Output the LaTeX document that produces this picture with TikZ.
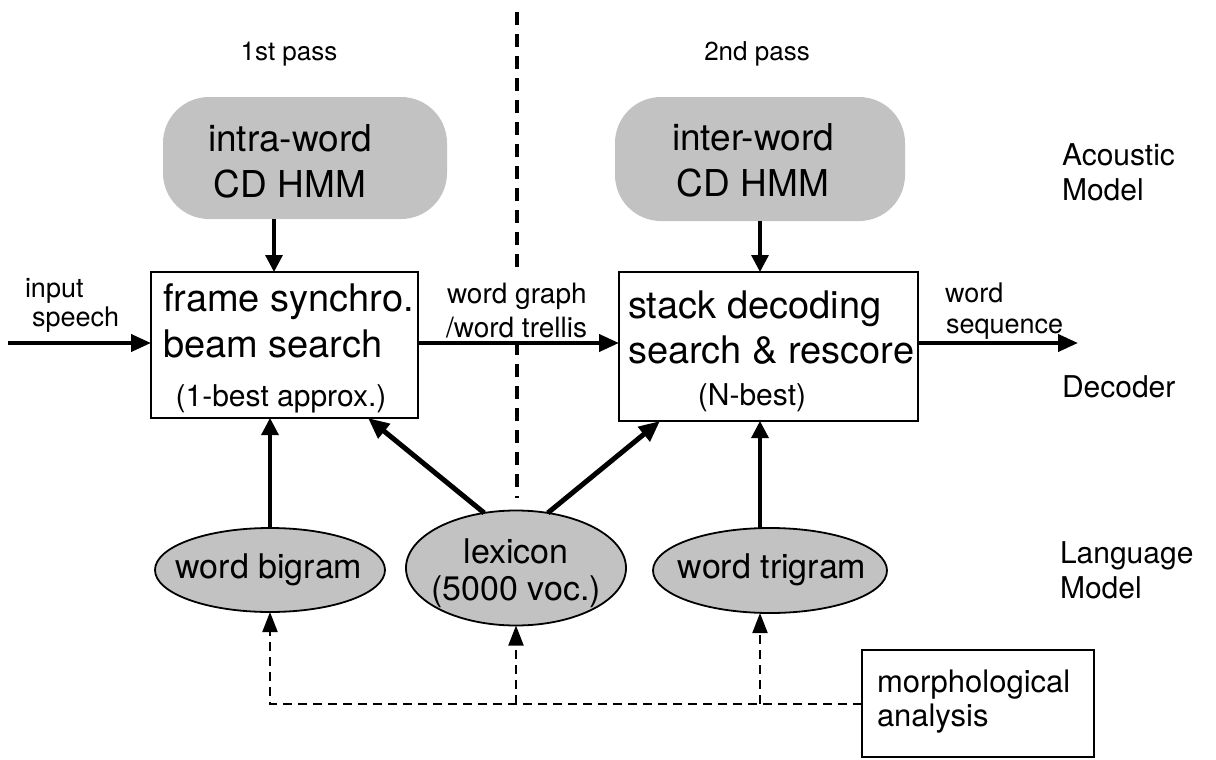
\documentclass[tikz,border=0pt]{standalone}
\usepackage{fontspec}
\setmainfont{TeX Gyre Heros}
\usetikzlibrary{arrows.meta,shapes.geometric}
\definecolor{stipple}{gray}{0.76}
\newcommand\fsz[1]{\fontsize{#1}{#1}\selectfont}
\begin{document}
\begin{tikzpicture}[x=1pt,y=-1pt,
  every node/.style={inner sep=0pt,outer sep=0pt},
  amodel/.style={fill=stipple,rounded corners=46pt},
  procbox/.style={draw,line width=1.6pt,fill=white},
  lmodel/.style={ellipse,draw,line width=1.8pt,fill=stipple},
  ctext/.style={anchor=base,font=\fsz{#1}},
  ltext/.style={anchor=base west,font=\fsz{#1}},
  bigarrow/.style={line width=4pt,-{Triangle[length=20pt,width=17pt]}},
  midarrow/.style={line width=3.2pt,-{Triangle[length=17pt,width=17pt]}},
  lexarrow/.style={line width=5pt,-{Triangle[length=21pt,width=18pt]}},
  dasharrow/.style={line width=2pt,dash pattern=on 9pt off 6pt,-{Triangle[length=20pt,width=15pt]}},
  divider/.style={line width=3.5pt,dash pattern=on 13pt off 9pt}]
\useasboundingbox (0,0) rectangle (1216,760);

% pass headings and the divider between the passes
\node[ctext=26] (pass1) at (289,60) {1st pass};
\node[ctext=26] (pass2) at (757,60) {2nd pass};
\coordinate (dtop) at (517,12);
\coordinate (dbot) at (517,498);
\draw[divider] (dtop) -- (dbot);

% acoustic models
\node[amodel,minimum width=284,minimum height=122] (am1) at (305,158) {};
\node[amodel,minimum width=290,minimum height=124] (am2) at (760,159) {};
\node[ctext=37] (am1a) at (290,151) {intra-word};
\node[ctext=37] (am1b) at (290,197) {CD HMM};
\node[ctext=37] (am2a) at (753,150) {inter-word};
\node[ctext=37] (am2b) at (753,196) {CD HMM};

% decoders
\node[procbox,minimum width=267,minimum height=146] (fs) at (284.5,345) {};
\node[procbox,minimum width=299,minimum height=149] (sd) at (768.5,346.5) {};
\node[ltext=38] (fs1) at (163,311) {frame synchro.};
\node[ltext=38] (fs2) at (163,357) {beam search};
\node[ctext=30] (fs3) at (281,406) {(1-best approx.)};
\node[ltext=38] (sd1) at (628,318) {stack decoding};
\node[ltext=38] (sd2) at (628,363) {search \& rescore};
\node[ctext=30] (sd3) at (752,405) {(N-best)};

% language models
\node[lmodel,minimum width=230,minimum height=84] (bigram) at (270,570) {};
\node[lmodel,minimum width=220,minimum height=115] (lex) at (516,568) {};
\node[lmodel,minimum width=234,minimum height=85] (trigram) at (770,570.5) {};
\node[ctext=34] (bg) at (269,578) {word bigram};
\node[ctext=34] (lx1) at (516,563) {lexicon};
\node[ctext=34] (lx2) at (516,600) {(5000 voc.)};
\node[ctext=34] (tg) at (772,578) {word trigram};

% morphological analysis
\node[procbox,minimum width=232,minimum height=107] (morph) at (978,703.5) {};
\node[ltext=31] (mo1) at (877,692) {morphological};
\node[ltext=31] (mo2) at (877,726) {analysis};

% side labels
\node[ltext=30] (ac1) at (1062,165) {Acoustic};
\node[ltext=30] (ac2) at (1062,200) {Model};
\node[ltext=30] (dc) at (1062,397) {Decoder};
\node[ltext=30] (lg1) at (1060,563) {Language};
\node[ltext=30] (lg2) at (1060,598) {Model};

% edge labels (the one between the passes masks the divider)
\node[ltext=27] (in1) at (25,297) {input};
\node[ltext=27] (in2) at (32,326) {speech};
\node[ltext=28,fill=white,inner ysep=7pt] (wg1) at (447,303) {word graph};
\node[ltext=28,fill=white,inner ysep=5pt] (wg2) at (446,337) {/word trellis};
\node[ltext=27] (ws1) at (945,302) {word};
\node[ltext=27] (ws2) at (946,333) {sequence};

% main data flow
\coordinate (inS) at (8,343);
\coordinate (outE) at (1078,343);
\draw[bigarrow] (inS) -- (inS -| fs.west);
\draw[bigarrow] (fs.east |- inS) -- (sd.west |- inS);
\draw[bigarrow] (sd.east |- inS) -- (outE);

% models feeding the decoders
\coordinate (x1) at (274,0);
\coordinate (x2) at (760,0);
\coordinate (x3) at (368,0);
\coordinate (x4) at (660,0);
\draw[midarrow] (am1.south -| x1) -- (fs.north -| x1);
\draw[midarrow] (am2.south -| x2) -- (sd.north -| x2);
\draw[midarrow] (bigram.north) -- (fs.south -| bigram.north);
\draw[midarrow] (trigram.north -| x2) -- (sd.south -| x2);
\draw[lexarrow] (lex.120) -- (fs.south -| x3);
\draw[lexarrow] (lex.60) -- (sd.south -| x4);

% morphological analysis feeding the language models
\draw[dasharrow] (morph.west) -- (morph.west -| bigram.south) -- (bigram.south);
\draw[dasharrow] (morph.west -| lex.south) -- (lex.south);
\draw[dasharrow] (morph.west -| x2) -- (trigram.south -| x2);
\end{tikzpicture}
\end{document}
